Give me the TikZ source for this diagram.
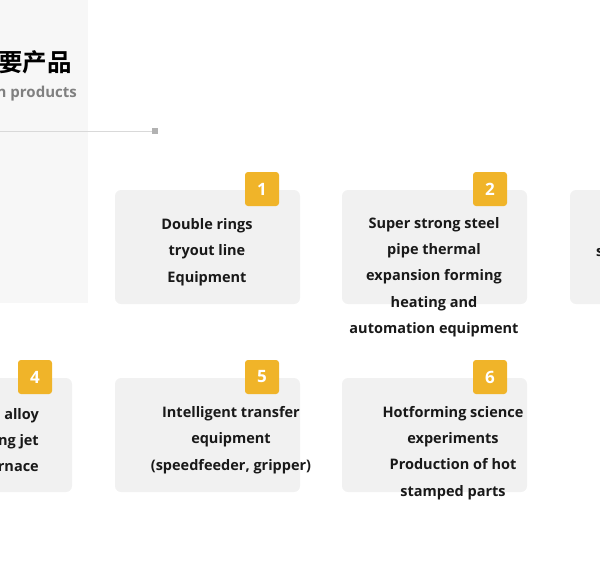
\documentclass[tikz,border=0pt]{standalone}
\usepackage{fontspec}
\setmainfont{Open Sans}[BoldFont={Open Sans Bold}]
\newfontfamily\bodyfont{Open Sans}[UprightFont={* Bold},BoldFont={* Bold}]
\newfontfamily\cjk{Noto Sans CJK SC Bold}
\definecolor{cardgray}{HTML}{F1F1F1}
\definecolor{panelgray}{HTML}{F7F7F7}
\definecolor{badge}{HTML}{F0B429}
\begin{document}
\begin{tikzpicture}[x=1pt,y=-1pt,
  card/.style={fill=cardgray,rounded corners=6pt},
  badgebox/.style={fill=badge,rounded corners=3pt,minimum width=34pt,minimum height=34pt,text=white,font=\bodyfont\fontsize{17}{17}\selectfont,inner sep=0pt},
  body/.style={font=\bodyfont\fontsize{14.5}{26.3}\selectfont,align=center,inner sep=0pt,text=black!90}]
\useasboundingbox (0,0) rectangle (600,563);
\clip (0,0) rectangle (600,563);
\fill[panelgray] (0,0) rectangle (88,303);
\node[anchor=east,font=\cjk\fontsize{24.5}{24.5}\selectfont,inner sep=0pt] (title) at (72,62) {要产品};
\node[anchor=east,font=\bodyfont\fontsize{15}{15}\selectfont,text=black!50,inner sep=0pt] (sub) at (77,94) {n products};
\coordinate (l0) at (0,131);
\node[fill=black!30,minimum size=6pt,inner sep=0pt] (sq) at (155,131) {};
\draw[black!15,line width=0.8pt] (l0) -- (sq);
% top row
\fill[card] (115,190) rectangle (300,304);
\fill[card] (342,190) rectangle (527,304);
\fill[card] (570,190) rectangle (700,304);
\node[badgebox] (b1) at (262,189) {1};
\node[badgebox] (b2) at (490,189) {2};
\node[body] (t1) at (207,252) {Double rings\\tryout line\\Equipment};
\node[body] (t2) at (434,277) {Super strong steel\\pipe thermal\\expansion forming\\heating and\\automation equipment};
\node[body,anchor=west] (t3) at (596,253) {s};
% bottom row
\fill[card] (-100,378) rectangle (72,492);
\fill[card] (115,378) rectangle (300,492);
\fill[card] (342,378) rectangle (527,492);
\node[badgebox] (b4) at (35,377) {4};
\node[badgebox] (b5) at (262,377) {5};
\node[badgebox] (b6) at (490,377) {6};
\node[body,align=right,anchor=east] (t4) at (39,440) {alloy\\ng jet\\rnace};
\node[body] (t5) at (231,440) {Intelligent transfer\\equipment\\(speedfeeder, gripper)};
\node[body] (t6) at (453,453) {Hotforming science\\experiments\\Production of hot\\stamped parts};
\end{tikzpicture}
\end{document}
